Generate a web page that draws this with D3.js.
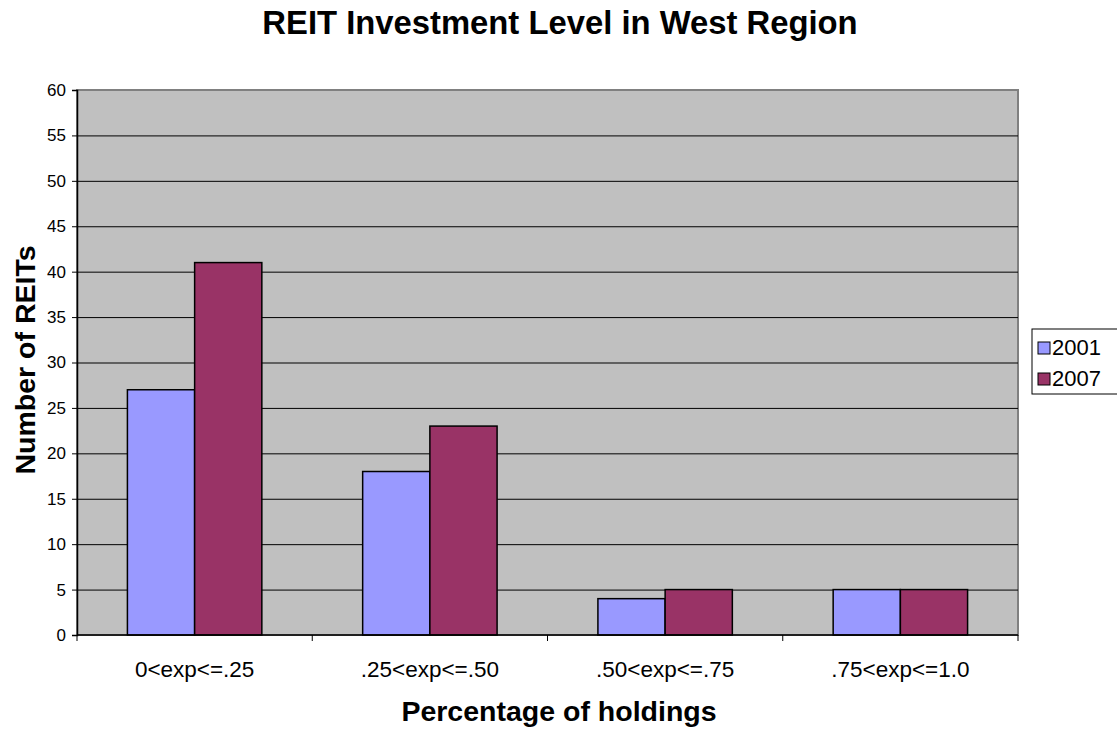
<!DOCTYPE html>
<html>
<head>
<meta charset="UTF-8">
<title>REIT Investment Level in West Region</title>
<script src="https://d3js.org/d3.v7.min.js"></script>
<style>
html, body { margin: 0; padding: 0; background: #fff; }
svg { display: block; }
svg text { font-family: "Liberation Sans", Arial, Helvetica, sans-serif; fill: #000; }
</style>
</head>
<body>
<script>
// data
var categories = ["0<exp<=.25", ".25<exp<=.50", ".50<exp<=.75", ".75<exp<=1.0"];
var seriesNames = ["2001", "2007"];
var values2001 = [27, 18, 4, 5];
var values2007 = [41, 23, 5, 5];
var yTicks = [0, 5, 10, 15, 20, 25, 30, 35, 40, 45, 50, 55, 60];
var colors = ["#9999ff", "#993366"];

var width = 1117, height = 731;
var plot = {left: 77, top: 90, right: 1018, bottom: 635};

var svg = d3.select("body").append("svg")
    .attr("width", width)
    .attr("height", height);

var x = d3.scaleBand()
    .domain(categories)
    .range([plot.left, plot.right]);

var xInner = d3.scaleBand()
    .domain(seriesNames)
    .range([0, x.bandwidth()])
    .paddingOuter(0.75);

var y = d3.scaleLinear()
    .domain([0, 60])
    .range([plot.bottom, plot.top]);

// plot background
svg.append("rect")
    .attr("x", plot.left)
    .attr("y", plot.top)
    .attr("width", plot.right - plot.left)
    .attr("height", plot.bottom - plot.top)
    .attr("fill", "#c0c0c0")
    .attr("stroke", "#808080")
    .attr("stroke-width", 2);

// gridlines
svg.append("g")
    .selectAll("line")
    .data(yTicks.filter(function(d) { return d > 0 && d < 60; }))
    .enter().append("line")
    .attr("x1", plot.left)
    .attr("x2", plot.right)
    .attr("y1", function(d) { return y(d) + 0.5; })
    .attr("y2", function(d) { return y(d) + 0.5; })
    .attr("stroke", "#000")
    .attr("stroke-width", 1);

// bars
var series = seriesNames.map(function(name, i) {
    return {name: name, values: i === 0 ? values2001 : values2007};
});

series.forEach(function(s, i) {
    svg.append("g").selectAll("rect")
        .data(s.values)
        .enter().append("rect")
        .attr("x", function(d, j) { return x(categories[j]) + xInner(s.name); })
        .attr("y", function(d) { return y(d); })
        .attr("width", xInner.bandwidth())
        .attr("height", function(d) { return y(0) - y(d); })
        .attr("fill", colors[i])
        .attr("stroke", "#000")
        .attr("stroke-width", 1.5);
});

// y axis
var yAxis = svg.append("g")
    .attr("transform", "translate(" + plot.left + ",0)")
    .call(d3.axisLeft(y).tickValues(yTicks).tickSize(5).tickPadding(6));
yAxis.attr("font-family", null).attr("font-size", null);
yAxis.select(".domain").attr("stroke", "#000").attr("stroke-width", 1.5);
yAxis.selectAll(".tick line").attr("stroke", "#000");
yAxis.selectAll("text").style("font-size", "17px");

// x axis with ticks between categories
var xAxis = svg.append("g")
    .attr("transform", "translate(0," + plot.bottom + ")");
xAxis.append("line")
    .attr("x1", plot.left).attr("x2", plot.right)
    .attr("stroke", "#000").attr("stroke-width", 1.5);
xAxis.selectAll(".sep")
    .data(categories.concat(["end"]))
    .enter().append("line")
    .attr("class", "sep")
    .attr("x1", function(d, i) { return plot.left + i * x.step(); })
    .attr("x2", function(d, i) { return plot.left + i * x.step(); })
    .attr("y1", 0).attr("y2", 6)
    .attr("stroke", "#000");
xAxis.selectAll(".lbl")
    .data(categories)
    .enter().append("text")
    .attr("class", "lbl")
    .attr("x", function(d) { return x(d) + x.bandwidth() / 2; })
    .attr("y", 42)
    .attr("text-anchor", "middle")
    .style("font-size", "22.5px")
    .text(function(d) { return d; });

// titles
svg.append("text")
    .attr("x", 560).attr("y", 34)
    .attr("text-anchor", "middle")
    .style("font-size", "32.8px")
    .style("font-weight", "bold")
    .text("REIT Investment Level in West Region");

svg.append("text")
    .attr("x", 559).attr("y", 721)
    .attr("text-anchor", "middle")
    .style("font-size", "28.5px")
    .style("font-weight", "bold")
    .text("Percentage of holdings");

svg.append("text")
    .attr("transform", "translate(35,360) rotate(-90)")
    .attr("text-anchor", "middle")
    .style("font-size", "28.5px")
    .style("font-weight", "bold")
    .text("Number of REITs");

// legend
var legend = svg.append("g").attr("transform", "translate(1032,329)");
legend.append("rect")
    .attr("width", 100).attr("height", 65)
    .attr("fill", "#fff").attr("stroke", "#000");
var items = legend.selectAll(".item")
    .data(series)
    .enter().append("g")
    .attr("transform", function(d, i) { return "translate(6," + (13 + i * 31) + ")"; });
items.append("rect")
    .attr("width", 12).attr("height", 12)
    .attr("fill", function(d, i) { return colors[i]; })
    .attr("stroke", "#000");
items.append("text")
    .attr("x", 14).attr("y", 13)
    .style("font-size", "22px")
    .text(function(d) { return d.name; });
</script>
</body>
</html>
